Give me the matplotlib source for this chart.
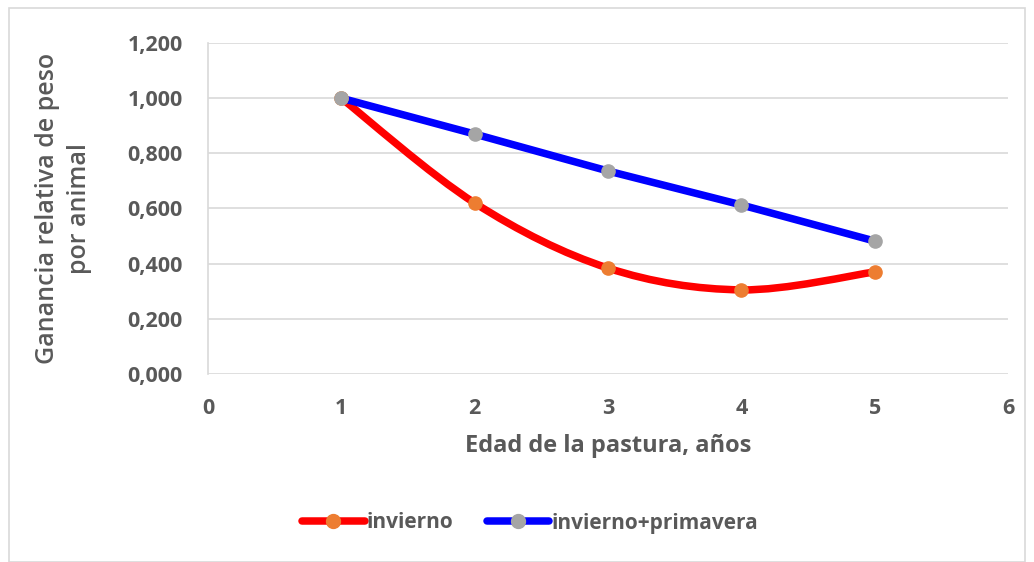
import numpy as np
import matplotlib.pyplot as plt
from matplotlib.path import Path
from matplotlib.patches import PathPatch, Rectangle
from matplotlib.lines import Line2D

edad = [1, 2, 3, 4, 5]
invierno = [1.000, 0.620, 0.384, 0.305, 0.370]
inv_prim = [1.000, 0.870, 0.736, 0.613, 0.482]

yticks = [0.0, 0.2, 0.4, 0.6, 0.8, 1.0, 1.2]
ytick_labels = ['0,000', '0,200', '0,400', '0,600', '0,800', '1,000', '1,200']
xticks = [0, 1, 2, 3, 4, 5, 6]

plt.rcParams['font.family'] = ['Open Sans', 'DejaVu Sans']
gray_txt = '#595959'


def smooth_path(x, y):
    # Excel-style smoothed line: cubic Bezier segments (Catmull-Rom tangents)
    x = np.asarray(x, float)
    y = np.asarray(y, float)
    n = len(x)
    verts = [(x[0], y[0])]
    codes = [Path.MOVETO]
    for i in range(n - 1):
        p0 = np.array([x[max(i - 1, 0)], y[max(i - 1, 0)]])
        p1 = np.array([x[i], y[i]])
        p2 = np.array([x[i + 1], y[i + 1]])
        p3 = np.array([x[min(i + 2, n - 1)], y[min(i + 2, n - 1)]])
        c1 = p1 + (p2 - p0) / 6.0
        c2 = p2 - (p3 - p1) / 6.0
        verts += [tuple(c1), tuple(c2), tuple(p2)]
        codes += [Path.CURVE4] * 3
    return Path(verts, codes)


fig = plt.figure(figsize=(10.34, 5.62), dpi=100)
fig.patches.append(Rectangle((9 / 1034, 0.0), 1016 / 1034, 554 / 562,
                             transform=fig.transFigure, fill=False,
                             edgecolor='#d9d9d9', lw=1.2))

ax = fig.add_axes([208 / 1034, 1 - 374 / 562, 800 / 1034, 331 / 562])

ax.add_patch(PathPatch(smooth_path(edad, invierno), facecolor='none',
                       edgecolor='#ff0000', lw=5.4, capstyle='round', zorder=3))
ax.plot(edad, invierno, ls='none', marker='o', ms=9.5, mfc='#ed7d31',
        mec='#ed7d31', zorder=4)

ax.plot(edad, inv_prim, color='#0000ff', lw=5.4, solid_capstyle='round', zorder=3)
ax.plot(edad, inv_prim, ls='none', marker='o', ms=9.5, mfc='#a5a5a5',
        mec='#a5a5a5', zorder=5)

ax.set_xlim(0, 6)
ax.set_ylim(0, 1.2)
ax.set_xticks(xticks)
ax.set_yticks(yticks)
ax.set_yticklabels(ytick_labels)
ax.grid(axis='y', color='#d9d9d9', lw=1.2)
ax.set_axisbelow(True)
for s in ['top', 'right', 'bottom']:
    ax.spines[s].set_visible(False)
ax.spines['left'].set_color('#d9d9d9')
ax.spines['left'].set_linewidth(1.2)
ax.tick_params(length=0, labelsize=15.5, labelcolor=gray_txt)
ax.tick_params(axis='y', pad=18)
ax.tick_params(axis='x', pad=17)
for lab in ax.get_xticklabels() + ax.get_yticklabels():
    lab.set_fontweight('bold')

ax.set_xlabel('Edad de la pastura, años', fontsize=17, fontweight='bold',
              color=gray_txt, labelpad=11)
ax.set_ylabel('Ganancia relativa de peso\npor animal', fontsize=18,
              fontweight='semibold', color=gray_txt, labelpad=26, linespacing=1.35)

handles = [Line2D([], [], color='#ff0000', lw=5.4, marker='o', ms=10,
                  mfc='#ed7d31', mec='#ed7d31', solid_capstyle='round'),
           Line2D([], [], color='#0000ff', lw=5.4, marker='o', ms=10,
                  mfc='#a5a5a5', mec='#a5a5a5', solid_capstyle='round')]
leg = fig.legend(handles, ['invierno', 'invierno+primavera'], loc='center',
                 bbox_to_anchor=(530 / 1034, 1 - 523 / 562), ncol=2,
                 frameon=False, fontsize=15, handlelength=3.0,
                 handletextpad=0.1, columnspacing=1.6)
for t in leg.get_texts():
    t.set_color(gray_txt)
    t.set_fontweight('bold')

fig.savefig('out.png', dpi=100)
